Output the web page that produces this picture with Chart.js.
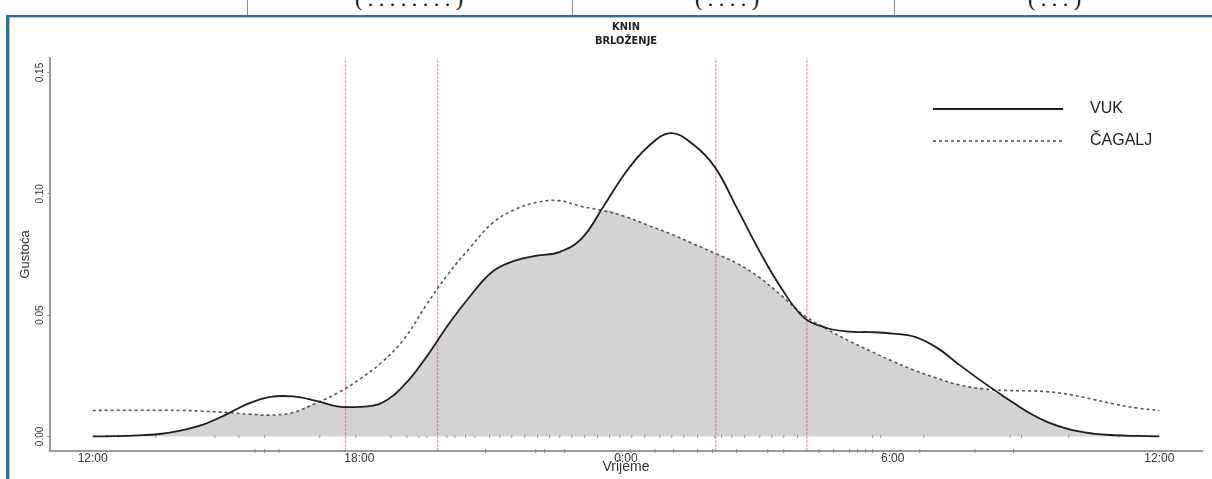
<!DOCTYPE html>
<html>
<head>
<meta charset="utf-8">
<script src="https://cdn.jsdelivr.net/npm/chart.js@4.4.1/dist/chart.umd.min.js"></script>
<style>
    html, body { margin: 0; padding: 0; background: #fff; }
    body { width: 1212px; height: 479px; position: relative; overflow: hidden; }
    #strip { position: absolute; left: 0; top: 0; width: 1212px; height: 15px; overflow: hidden; }
    .sep { position: absolute; top: 0; width: 1px; height: 15px; background: #8a8a8a; }
    .frag { position: absolute; top: -14px; font: 22px "Liberation Serif", "Times New Roman", serif; color: #111; white-space: pre; }
    #frame { position: absolute; left: 6px; top: 15px; width: 1230px; height: 490px; border-top: 2px solid #2d6f99; border-left: 3px solid #2d6f99; }
    #frameInner { position: absolute; left: 0; top: 0; right: 0; bottom: 0; border-top: 1px solid #a8c9de; border-left: 1px solid #a8c9de; }
    #wrap { position: absolute; left: 0; top: 0; width: 1212px; height: 479px; }
</style>
</head>
<body>
<div id="strip">
    <div class="sep" style="left:247px"></div>
    <div class="sep" style="left:572px"></div>
    <div class="sep" style="left:894px"></div>
    <span class="frag" style="left:355px">( . . . . . . . . )</span>
    <span class="frag" style="left:695px">( . . . . )</span>
    <span class="frag" style="left:1028px">( . . . )</span>
</div>
<div id="frame"><div id="frameInner"></div></div>
<div id="wrap"><canvas id="densityChart" width="1212" height="479"></canvas></div>

<script>
// --- podaci (očitano sa slike) ---
const titleLines = ['KNIN', 'BRLOŽENJE'];
const xTitle = 'Vrijeme';
const yTitle = 'Gustoća';

const xTickValues = [0, 6, 12, 18, 24];
const xTickLabels = ['12:00', '18:00', '0:00', '6:00', '12:00'];
const yTickValues = [0, 0.05, 0.10, 0.15];
const yTickLabels = ['0.00', '0.05', '0.10', '0.15'];

// sati od podneva (0 = 12:00, 12 = 0:00, 24 = 12:00)
const hours = [0, 0.5, 1, 1.5, 2, 2.5, 3, 3.5, 4, 4.5, 5, 5.5, 6, 6.5, 7, 7.5, 8, 8.5, 9, 9.5,
               10, 10.5, 11, 11.5, 12, 12.5, 13, 13.5, 14, 14.5, 15, 15.5, 16, 16.5, 17, 17.5,
               18, 18.5, 19, 19.5, 20, 20.5, 21, 21.5, 22, 22.5, 23, 23.5, 24];

const vukDensity = [0, 0.0001, 0.0004, 0.001, 0.0025, 0.005, 0.009, 0.0135, 0.0163, 0.0165,
                    0.0148, 0.0124, 0.0122, 0.0138, 0.021, 0.0325, 0.046, 0.058, 0.068, 0.0725,
                    0.0745, 0.076, 0.0815, 0.095, 0.109, 0.1195, 0.125, 0.1205, 0.111, 0.094,
                    0.0765, 0.061, 0.049, 0.0448, 0.0432, 0.043, 0.0424, 0.041, 0.0365, 0.0295,
                    0.0228, 0.0165, 0.0105, 0.0058, 0.0028, 0.0012, 0.0005, 0.0002, 0];

const cagaljDensity = [0.0107, 0.0108, 0.0108, 0.0108, 0.0107, 0.0104, 0.0099, 0.0092, 0.0088, 0.0098,
                       0.0135, 0.0178, 0.0235, 0.0305, 0.04, 0.054, 0.067, 0.078, 0.088, 0.0935,
                       0.0965, 0.0972, 0.0948, 0.093, 0.0905, 0.087, 0.0835, 0.0795, 0.0755, 0.0713,
                       0.0655, 0.058, 0.050, 0.0445, 0.0395, 0.0352, 0.031, 0.0272, 0.024, 0.0212,
                       0.0197, 0.019, 0.0188, 0.0184, 0.0172, 0.0153, 0.0133, 0.0117, 0.0107];

// crvene okomite linije (sati od podneva)
const markerHours = [5.69, 7.76, 14.02, 16.07];

// "rug" oznake uz os
const rugBaseline = [0.32, 0.58, 1.42, 2.75, 3.29, 3.87, 5.11, 5.92, 6.71, 7.07, 7.34, 7.52, 7.97, 8.15,
                     8.39, 8.6, 8.93, 9.16, 9.43, 9.72, 10.01, 10.28, 10.51, 10.78, 11.07, 11.36, 11.63,
                     11.86, 12.13, 12.42, 12.76, 13.03, 13.3, 13.61, 13.99, 14.15, 14.38, 14.67, 15.01,
                     15.28, 15.55, 15.86, 17.55, 17.73, 18.7, 20.64, 20.9, 21.96, 23.09];
const rugAxis = [3.65, 3.87, 4.19, 8.84, 9.97, 10.17, 10.62, 12.11, 12.65, 13.07, 13.61, 13.95, 14.49,
                 15.19, 15.55, 16.34, 16.67, 17.03, 17.21, 17.39, 17.55, 18.61, 19.85, 20.72];

const legendEntries = ['VUK', 'ČAGALJ'];

const Y_MIN = -0.006, Y_MAX = 0.156;
const FONT = '"Liberation Sans", Arial, sans-serif';

// preklapanje = manja od dvije gustoće
const overlap = hours.map((h, i) => ({ x: h, y: Math.min(vukDensity[i], cagaljDensity[i]) }));

const cornerLegend = {
    id: 'cornerLegend',
    afterDatasetsDraw(chart) {
        const ctx = chart.ctx;
        legendEntries.forEach((name, i) => {
            const ds = chart.data.datasets.find(d => d.label === name);
            const y = 109 + i * 32;
            ctx.save();
            ctx.strokeStyle = ds.borderColor;
            ctx.lineWidth = ds.borderWidth;
            ctx.setLineDash(ds.borderDash || []);
            ctx.beginPath();
            ctx.moveTo(933, y);
            ctx.lineTo(1063, y);
            ctx.stroke();
            ctx.setLineDash([]);
            ctx.fillStyle = '#222';
            ctx.font = '16px ' + FONT;
            ctx.textBaseline = 'middle';
            ctx.fillText(name, 1090, y);
            ctx.restore();
        });
    }
};

Chart.defaults.font.family = FONT;

const datasets = [
    {
        label: 'VUK',
        data: hours.map((h, i) => ({ x: h, y: vukDensity[i] })),
        borderColor: '#1e1e1e',
        borderWidth: 1.8,
        pointRadius: 0,
        tension: 0.4,
        fill: false,
        order: 1
    },
    {
        label: 'ČAGALJ',
        data: hours.map((h, i) => ({ x: h, y: cagaljDensity[i] })),
        borderColor: '#555',
        borderWidth: 1.6,
        borderDash: [3, 3],
        pointRadius: 0,
        tension: 0.4,
        fill: false,
        order: 2
    },
    {
        label: 'rug1',
        data: rugBaseline.map(h => ({ x: h, y: 0 })),
        showLine: false,
        pointStyle: 'line',
        pointRotation: 90,
        pointRadius: 1.5,
        pointBorderColor: '#9a9a9a',
        pointBorderWidth: 1,
        clip: false,
        order: 3
    },
    {
        label: 'rug2',
        data: rugAxis.map(h => ({ x: h, y: Y_MIN })),
        showLine: false,
        pointStyle: 'line',
        pointRotation: 90,
        pointRadius: 2,
        pointBorderColor: '#888',
        pointBorderWidth: 1,
        clip: false,
        order: 3
    },
    {
        label: 'overlap',
        data: overlap,
        borderWidth: 0,
        borderColor: 'rgba(0,0,0,0)',
        backgroundColor: '#d3d3d3',
        pointRadius: 0,
        tension: 0.4,
        fill: 'origin',
        order: 6
    }
];

markerHours.forEach(h => {
    datasets.push({
        label: 'marker',
        data: [{ x: h, y: Y_MIN }, { x: h, y: Y_MAX }],
        borderColor: 'rgba(205,95,95,0.55)',
        borderWidth: 1.3,
        borderDash: [3, 1],
        pointRadius: 0,
        fill: false,
        order: 4
    });
});

new Chart(document.getElementById('densityChart'), {
    type: 'line',
    data: { datasets },
    options: {
        responsive: false,
        animation: false,
        events: [],
        layout: { padding: { left: 0, right: 10, top: 0, bottom: 0 } },
        scales: {
            x: {
                type: 'linear',
                min: -0.96,
                max: 24.96,
                afterBuildTicks: s => { s.ticks = xTickValues.map(v => ({ value: v })); },
                afterFit: s => { s.height = 28; },
                ticks: {
                    callback: (v, i) => xTickLabels[i],
                    autoSkip: false, minRotation: 0, maxRotation: 0,
                    padding: 0, color: '#333', font: { size: 12 }
                },
                grid: { display: true, drawOnChartArea: false, drawTicks: false },
                border: { display: true, color: '#9a9a9a', width: 2 },
                title: { display: true, text: xTitle, color: '#333', font: { size: 14 }, padding: { top: 0, bottom: 3 } }
            },
            y: {
                type: 'linear',
                min: Y_MIN,
                max: Y_MAX,
                afterBuildTicks: s => { s.ticks = yTickValues.map(v => ({ value: v })); },
                afterFit: s => { s.width = 50; },
                ticks: {
                    callback: (v, i) => yTickLabels[i],
                    minRotation: 90, maxRotation: 90, crossAlign: 'center',
                    padding: -3, color: '#333', font: { size: 10 }
                },
                grid: { display: true, drawOnChartArea: false, drawTicks: true, tickLength: 3, color: '#999' },
                border: { display: true, color: '#9a9a9a', width: 2 },
                title: { display: true, text: yTitle, color: '#333', font: { size: 13 }, padding: { top: 18, bottom: 0 } }
            }
        },
        plugins: {
            legend: { display: false },
            tooltip: { enabled: false },
            title: {
                display: true,
                text: titleLines,
                fullSize: false,
                color: '#222',
                font: { size: 11, weight: 'bold', lineHeight: 1.27, family: '"Liberation Sans Narrow", "DejaVu Sans Condensed", ' + FONT },
                padding: { top: 20, bottom: 10 }
            }
        }
    },
    plugins: [cornerLegend]
});
</script>
</body>
</html>
